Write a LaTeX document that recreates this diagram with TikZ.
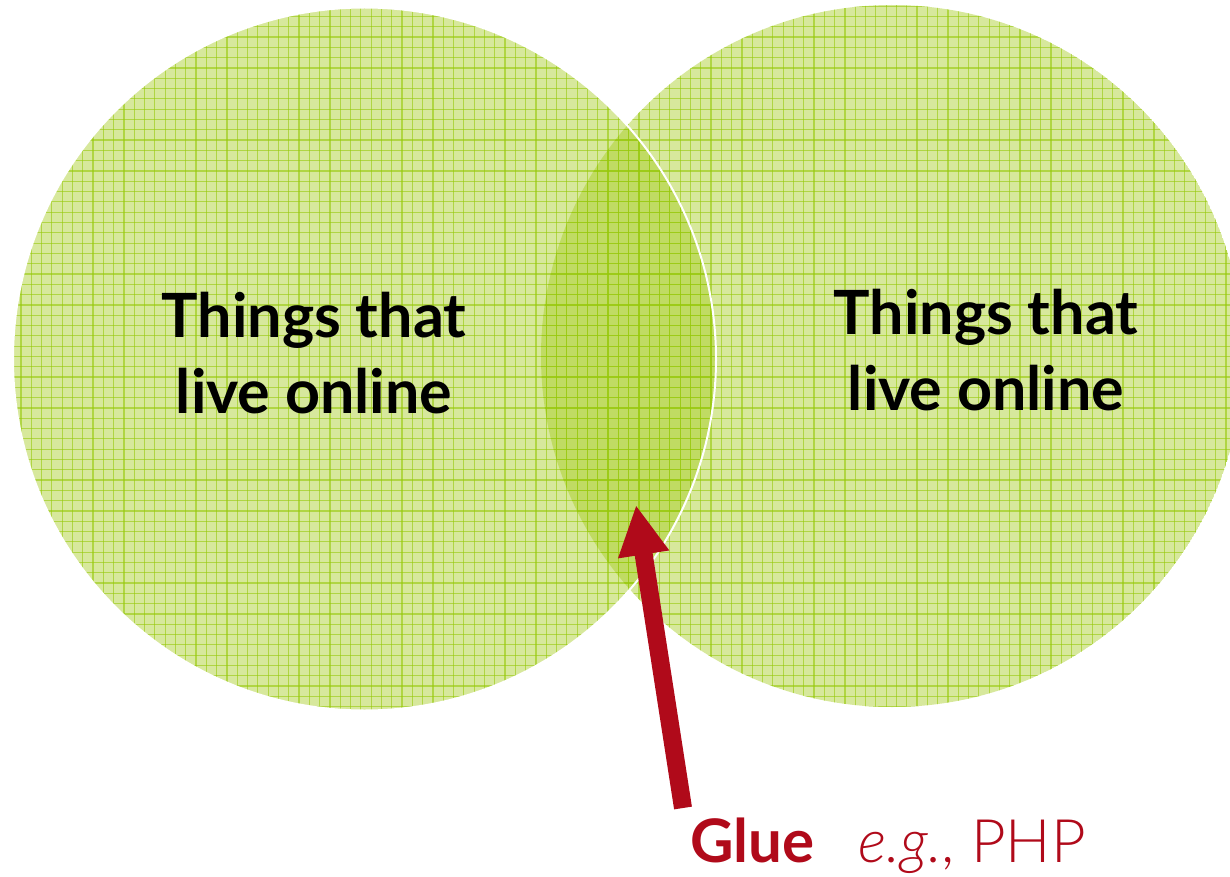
\documentclass[tikz,border=0pt]{standalone}
\usepackage{fontspec}
\setmainfont{Lato}
\newfontfamily\lightfont{Lato Light}
\usetikzlibrary{arrows.meta}
\definecolor{leaf}{RGB}{160,200,20}
\definecolor{gridgreen}{RGB}{150,200,10}
\definecolor{gluered}{RGB}{176,10,26}
\tikzset{
  bigtext/.style={align=center, font=\fontsize{61}{76}\selectfont\bfseries, text=black, inner sep=0pt},
  gluearrow/.style={draw=gluered, line width=18pt, -{Triangle[length=50pt,width=48pt]}},
  gridline/.style={gridgreen, opacity=0.6, line width=1.2pt},
}
\begin{document}
\begin{tikzpicture}[x=1pt,y=-1pt]
\useasboundingbox (0,0) rectangle (1230,877);
% right circle
\begin{scope}
  \clip (892,356) circle (351);
  \fill[leaf, opacity=0.42] (892,356) circle (351);
  \foreach \i in {0,...,120} {
    \draw[gridline] ({0.3+10.3*\i},0) -- ({0.3+10.3*\i},877);
  }
  \foreach \i in {0,...,85} {
    \draw[gridline] (0,{6.2+10.3*\i}) -- (1230,{6.2+10.3*\i});
  }
\end{scope}
% left circle
\begin{scope}
  \clip (364.5,359) circle (351.5);
  \fill[leaf, opacity=0.42] (364.5,359) circle (351.5);
  \foreach \i in {0,...,70} {
    \draw[gridline] ({0.3+10.3*\i},0) -- ({0.3+10.3*\i},877);
  }
  \foreach \i in {0,...,85} {
    \draw[gridline] (0,{6.2+10.3*\i}) -- (1230,{6.2+10.3*\i});
  }
\end{scope}
\draw[white, line width=2pt] (364.5,359) circle (351.5);
% texts
\node[bigtext, anchor=base] (lefttext) at (314,413) {Things that\\live online};
\node[bigtext, anchor=base] (righttext) at (986,410) {Things that\\live online};
\node[anchor=base west, inner sep=0pt, text=gluered, font=\fontsize{60}{70}\selectfont] (glue) at (690,862)
  {\textbf{Glue}\hspace{44pt}{\lightfont\itshape e.g.}{\lightfont , PHP}};
% arrow
\coordinate (arrowstart) at (683,808);
\coordinate (lens) at (636,505);
\draw[gluearrow] (arrowstart) -- (lens);
\end{tikzpicture}
\end{document}
